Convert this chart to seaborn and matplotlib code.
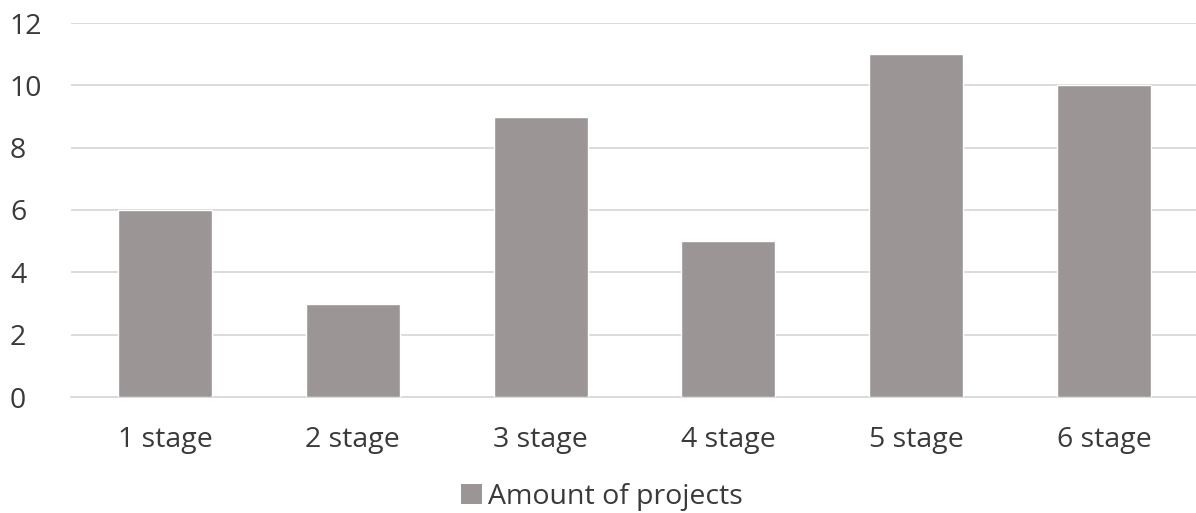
import matplotlib
matplotlib.use('Agg')
import matplotlib.pyplot as plt
import seaborn as sns
import pandas as pd
from matplotlib.patches import Patch

# chart values
stages = ['1 stage', '2 stage', '3 stage', '4 stage', '5 stage', '6 stage']
projects = [6, 3, 9, 5, 11, 10]
y_ticks = [0, 2, 4, 6, 8, 10, 12]

df = pd.DataFrame({'Stage': stages, 'Amount of projects': projects})

sns.set_theme(style='white')
plt.rcParams['font.family'] = ['Open Sans', 'DejaVu Sans']

bar_col = '#9b9695'
text_col = '#3a3a3a'
grid_col = '#d9d9d9'

fig = plt.figure(figsize=(11.96, 5.13), dpi=100)
ax = fig.add_axes([71/1196, 1 - 397/513, 1127/1196, 374/513])

sns.barplot(data=df, x='Stage', y='Amount of projects', color=bar_col,
            width=0.5, saturation=1, ax=ax, zorder=3)

ax.set_ylim(0, 12)
ax.set_yticks(y_ticks)
ax.set_xlim(-0.5, len(stages) - 0.5)
ax.yaxis.grid(True, color=grid_col, linewidth=1.3, zorder=0)
ax.set_axisbelow(True)
for s in ['top', 'right', 'left']:
    ax.spines[s].set_visible(False)
ax.spines['bottom'].set_color(grid_col)
ax.spines['bottom'].set_linewidth(1.3)
ax.tick_params(axis='both', length=0, labelsize=20.5, colors=text_col)
ax.tick_params(axis='x', pad=21)
ax.tick_params(axis='y', pad=44)
for lab in ax.get_yticklabels():
    lab.set_horizontalalignment('left')
ax.set_xlabel('')
ax.set_ylabel('')

handles = [Patch(facecolor=bar_col, edgecolor='none', label='Amount of projects')]
fig.legend(handles=handles, loc='center', bbox_to_anchor=(602/1196, 1 - 497/513),
           frameon=False, fontsize=20.5, handlelength=0.75, handleheight=0.75,
           handletextpad=0.2, labelcolor=text_col)

fig.savefig('out.png', dpi=100)
